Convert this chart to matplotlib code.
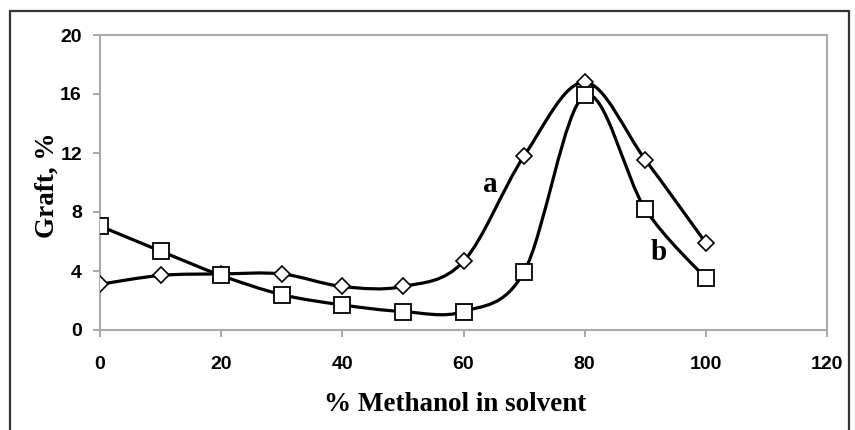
import numpy as np
import matplotlib
matplotlib.use("Agg")
import matplotlib.pyplot as plt
from matplotlib.path import Path
from matplotlib.patches import PathPatch, Rectangle

# Data
methanol_pct = [0, 10, 20, 30, 40, 50, 60, 70, 80, 90, 100]
graft_a = [3.1, 3.7, 3.8, 3.8, 2.95, 2.95, 4.65, 11.8, 16.8, 11.55, 5.9]
graft_b = [7.05, 5.35, 3.7, 2.4, 1.7, 1.25, 1.25, 3.95, 15.9, 8.2, 3.5]

x_ticks = [0, 20, 40, 60, 80, 100, 120]
y_ticks = [0, 4, 8, 12, 16, 20]


def smooth_path(xs, ys):
    """Excel-style smoothed line: cubic bezier through each point"""
    pts = np.column_stack([xs, ys]).astype(float)
    n = len(pts)
    verts = [pts[0]]
    codes = [Path.MOVETO]
    for i in range(n - 1):
        p0 = pts[i - 1] if i > 0 else pts[i]
        p1 = pts[i]
        p2 = pts[i + 1]
        p3 = pts[i + 2] if i + 2 < n else pts[i + 1]
        c1 = p1 + (p2 - p0) / 6.0
        c2 = p2 - (p3 - p1) / 6.0
        verts += [c1, c2, p2]
        codes += [Path.CURVE4] * 3
    return Path(verts, codes)


fig = plt.figure(figsize=(8.55, 4.3), dpi=100)
ax = fig.add_axes([100 / 855, 100 / 430, 727 / 855, 295 / 430])

# outer frame (bottom edge runs off the image)
fig.patches.append(Rectangle((10 / 855, -0.05), 839 / 855, 1.05 - 11 / 430,
                             transform=fig.transFigure, fill=False,
                             edgecolor="#333333", linewidth=1.6))

for ys in (graft_a, graft_b):
    ax.add_patch(PathPatch(smooth_path(methanol_pct, ys), fill=False,
                           edgecolor="black", linewidth=2.3, zorder=2))

ax.plot(methanol_pct, graft_a, linestyle="none", marker="D", markersize=8.5,
        markerfacecolor="white", markeredgecolor="black", markeredgewidth=1.2,
        zorder=3)
ax.plot(methanol_pct, graft_b, linestyle="none", marker="s", markersize=11.5,
        markerfacecolor="white", markeredgecolor="black", markeredgewidth=1.3,
        zorder=3)

ax.text(64.5, 9.36, "a", family="Liberation Serif", fontweight="bold",
        fontsize=21, ha="center", va="baseline")
ax.text(92.3, 4.75, "b", family="Liberation Serif", fontweight="bold",
        fontsize=21, ha="center", va="baseline")

ax.set_xlim(0, 120)
ax.set_ylim(0, 20)
ax.set_xticks(x_ticks)
ax.set_yticks(y_ticks)
ax.set_xticklabels([str(t) for t in x_ticks], family="Liberation Sans",
                   fontweight="bold", fontsize=14)
ax.set_yticklabels([str(t) for t in y_ticks], family="Liberation Sans",
                   fontweight="bold", fontsize=14)
ax.tick_params(direction="out", length=5, width=1.2, color="#999999")
ax.tick_params(axis="x", pad=14)
ax.tick_params(axis="y", pad=8)
for s in ax.spines.values():
    s.set_color("#aaaaaa")
    s.set_linewidth(1.5)

ax.set_xlabel("% Methanol in solvent", family="Liberation Serif",
              fontweight="bold", fontsize=19.5)
ax.set_ylabel("Graft, %", family="Liberation Serif", fontweight="bold",
              fontsize=19.5)
ax.xaxis.set_label_coords(0.488, -0.21)
ax.yaxis.set_label_coords(-0.056, 0.49)

fig.savefig("out.png", dpi=100)
